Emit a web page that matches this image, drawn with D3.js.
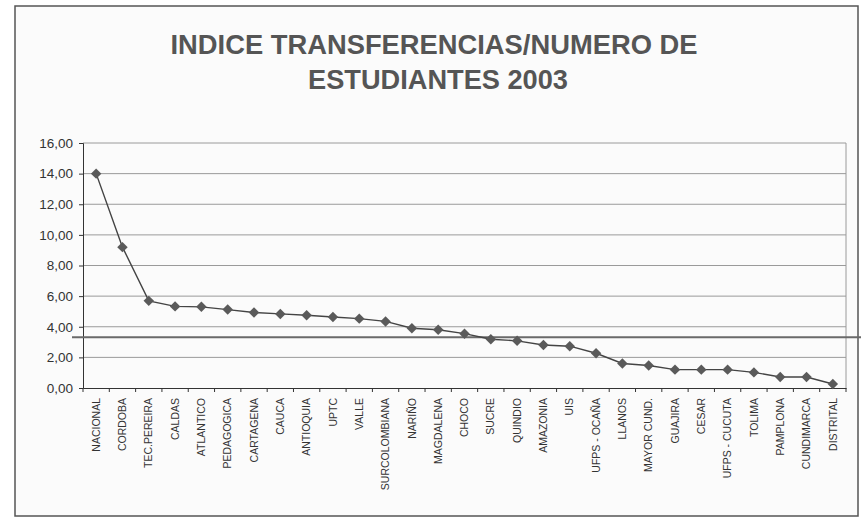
<!DOCTYPE html>
<html><head><meta charset="utf-8">
<script src="https://cdn.jsdelivr.net/npm/d3@7"></script>
<style>body{margin:0;background:#fff}svg{display:block}</style>
</head><body>
<script>
const categories = ["NACIONAL","CORDOBA","TEC.PEREIRA","CALDAS","ATLANTICO","PEDAGOGICA","CARTAGENA","CAUCA","ANTIOQUIA","UPTC","VALLE","SURCOLOMBIANA","NARIÑO","MAGDALENA","CHOCO","SUCRE","QUINDIO","AMAZONIA","UIS","UFPS - OCAÑA","LLANOS","MAYOR CUND.","GUAJIRA","CESAR","UFPS - CUCUTA","TOLIMA","PAMPLONA","CUNDIMARCA","DISTRITAL"];
const values = [14.00,9.20,5.69,5.33,5.30,5.12,4.93,4.84,4.75,4.64,4.53,4.35,3.90,3.80,3.55,3.18,3.08,2.81,2.73,2.27,1.60,1.47,1.20,1.20,1.20,1.02,0.72,0.72,0.26];
const average = [3.31];
const yTicks = [0,2,4,6,8,10,12,14,16];
const titleLines = ["INDICE TRANSFERENCIAS/NUMERO DE","ESTUDIANTES 2003"];

const W = 861, H = 518;
const svg = d3.select("body").append("svg").attr("width", W).attr("height", H);
svg.append("rect").attr("x",15).attr("y",6).attr("width",843).attr("height",510)
  .attr("fill","#fbfbfb").attr("stroke","#555").attr("stroke-width",1.5);

const L = 83, R = 846, T = 143, B = 388;
const x = d3.scaleBand().domain(categories).range([L, R]).padding(0);
const y = d3.scaleLinear().domain([0,16]).range([B, T]);

// title
svg.append("text").attr("x",434).attr("y",54).attr("text-anchor","middle")
  .attr("font-family","Liberation Sans, Arial, sans-serif").attr("font-weight","bold")
  .attr("font-size",27).attr("fill","#555").attr("textLength",527).attr("lengthAdjust","spacingAndGlyphs")
  .text(titleLines[0]);
svg.append("text").attr("x",438).attr("y",89).attr("text-anchor","middle")
  .attr("font-family","Liberation Sans, Arial, sans-serif").attr("font-weight","bold")
  .attr("font-size",27).attr("fill","#555").attr("textLength",260).attr("lengthAdjust","spacingAndGlyphs")
  .text(titleLines[1]);

// gridlines
svg.append("g").selectAll("line").data(yTicks.filter(d=>d>0)).join("line")
  .attr("x1",L).attr("x2",R).attr("y1",d=>y(d)).attr("y2",d=>y(d))
  .attr("stroke","#9a9a9a").attr("stroke-width",1);
// right border of plot
svg.append("line").attr("x1",R).attr("x2",R).attr("y1",T).attr("y2",B).attr("stroke","#9a9a9a");

// y axis
const fmt = d => d3.format(".2f")(d).replace(".", ",");
const yAxis = svg.append("g").attr("transform",`translate(${L},0)`)
  .call(d3.axisLeft(y).tickValues(yTicks).tickFormat(fmt).tickSize(4).tickPadding(6));
yAxis.select(".domain").attr("stroke","#333");
yAxis.selectAll(".tick line").attr("stroke","#333");
yAxis.selectAll("text").attr("font-family","Liberation Sans, Arial, sans-serif").attr("font-size",13.5).attr("fill","#333");

// x axis
const xAxis = svg.append("g").attr("transform",`translate(0,${B})`)
  .call(d3.axisBottom(x).tickSize(0).tickPadding(0));
xAxis.select(".domain").attr("stroke","#333");
xAxis.selectAll(".tick text").attr("transform","rotate(-90)")
  .attr("x",-10).attr("y",0).attr("dy","0.35em").attr("text-anchor","end")
  .attr("font-family","Liberation Sans, Arial, sans-serif").attr("font-size",10.5).attr("fill","#333");
// category boundary ticks
svg.append("g").selectAll("line").data(categories.concat(["__end"])).join("line")
  .attr("x1",(d,i)=>L + i*x.bandwidth()).attr("x2",(d,i)=>L + i*x.bandwidth())
  .attr("y1",B).attr("y2",B+4).attr("stroke","#333");

// average line
svg.append("g").selectAll("line").data(average).join("line")
  .attr("x1",72).attr("x2",861).attr("y1",d=>y(d)).attr("y2",d=>y(d))
  .attr("stroke","#6a6a6a").attr("stroke-width",2);

// series
const cx = d => x(d) + x.bandwidth()/2;
svg.append("path").datum(values)
  .attr("d", d3.line().x((d,i)=>cx(categories[i])).y(d=>y(d)))
  .attr("fill","none").attr("stroke","#444").attr("stroke-width",1.4);
svg.append("g").selectAll("path").data(values).join("path")
  .attr("transform",(d,i)=>`translate(${cx(categories[i])},${y(d)})`)
  .attr("d", d3.symbol(d3.symbolDiamond2, 70))
  .attr("fill","#5a5a5a");
</script>
</body></html>
